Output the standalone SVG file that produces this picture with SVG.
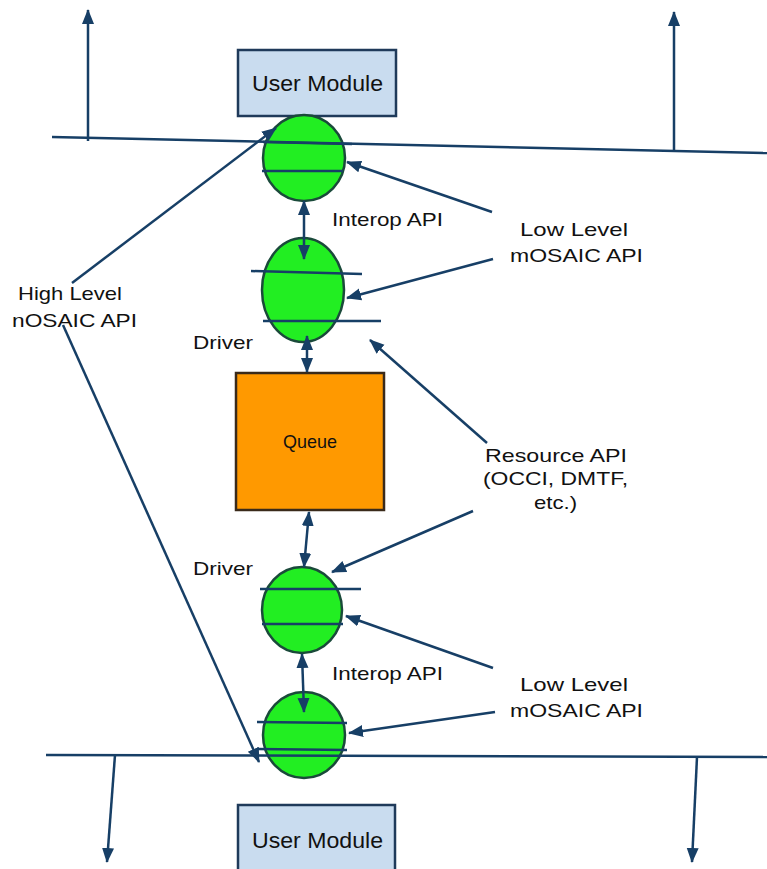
<svg xmlns="http://www.w3.org/2000/svg" width="767" height="869" viewBox="0 0 767 869">
<style>
.ln{stroke:#173f66;stroke-width:2.5;fill:none}
.ar{marker-end:url(#ah)}
.dar{marker-start:url(#ah);marker-end:url(#ah)}
.ell{fill:#22ee22;stroke:#1a4a3a;stroke-width:2.5}
.band{stroke:#173f66;stroke-width:2.5}
.box{fill:#c9dcef;stroke:#1f3a5a;stroke-width:2.5}
.q{fill:#ff9900;stroke:#3a2a1a;stroke-width:2.5}
text{font-family:"Liberation Sans",Arial,sans-serif;fill:#111;font-size:19px}
.big{font-size:22px}
</style>
<defs>
<marker id="ah" markerUnits="userSpaceOnUse" markerWidth="16" markerHeight="14" refX="14" refY="6" orient="auto-start-reverse" viewBox="0 0 16 12">
<path d="M0,0 L15,6 L0,12 z" fill="#173f66"/>
</marker>
</defs>

<g id="userModuleTop">
<rect class="box" x="238" y="50" width="158" height="66"/>
<text class="big" x="252" y="91" textLength="131" lengthAdjust="spacingAndGlyphs">User Module</text>
</g>
<g id="userModuleBottom">
<rect class="box" x="238" y="805" width="157" height="80"/>
<text class="big" x="252" y="848" textLength="131" lengthAdjust="spacingAndGlyphs">User Module</text>
</g>
<g id="queue">
<rect class="q" x="236" y="373" width="148" height="137"/>
<text x="283" y="448" textLength="54" lengthAdjust="spacingAndGlyphs">Queue</text>
</g>

<g id="interop1">
<ellipse class="ell" cx="304" cy="158" rx="41" ry="43"/>
<line class="band" x1="263" y1="142" x2="352" y2="144"/>
<line class="band" x1="262" y1="171" x2="343" y2="171"/>
</g>
<g id="driver1">
<ellipse class="ell" cx="303" cy="290" rx="41" ry="52"/>
<line class="band" x1="251" y1="271" x2="362" y2="274"/>
<line class="band" x1="263" y1="321" x2="381" y2="321"/>
</g>
<g id="driver2">
<ellipse class="ell" cx="302" cy="610" rx="40" ry="43"/>
<line class="band" x1="260" y1="589" x2="361" y2="589"/>
<line class="band" x1="262" y1="624" x2="343" y2="624"/>
</g>
<g id="interop2">
<ellipse class="ell" cx="304" cy="735" rx="41" ry="43"/>
<line class="band" x1="257" y1="722" x2="347" y2="723"/>
<line class="band" x1="257" y1="749" x2="347" y2="750"/>
</g>

<g id="connectors">
<line class="ln" x1="52" y1="137" x2="767" y2="153"/>
<line class="ln" x1="46" y1="755" x2="767" y2="757"/>
<line class="ln ar" x1="88" y1="141" x2="88" y2="10"/>
<line class="ln ar" x1="674" y1="152" x2="674" y2="12"/>
<line class="ln ar" x1="115" y1="755" x2="107" y2="862"/>
<line class="ln ar" x1="697" y1="757" x2="692" y2="862"/>
<line class="ln dar" x1="304" y1="201" x2="304" y2="259"/>
<line class="ln dar" x1="307" y1="336" x2="307" y2="372"/>
<line class="ln dar" x1="309" y1="512" x2="304" y2="567"/>
<line class="ln dar" x1="302" y1="654" x2="304" y2="712"/>
<line class="ln ar" x1="72" y1="283" x2="276" y2="128"/>
<line class="ln ar" x1="63" y1="325" x2="259" y2="762"/>
<line class="ln ar" x1="492" y1="212" x2="347" y2="162"/>
<line class="ln ar" x1="493" y1="259" x2="347" y2="298"/>
<line class="ln ar" x1="487" y1="443" x2="370" y2="340"/>
<line class="ln ar" x1="473" y1="511" x2="332" y2="572"/>
<line class="ln ar" x1="493" y1="668" x2="346" y2="616"/>
<line class="ln ar" x1="495" y1="712" x2="349" y2="733"/>
</g>

<g id="labels">
<text x="332" y="226" textLength="111" lengthAdjust="spacingAndGlyphs">Interop API</text>
<text x="193" y="349" textLength="60" lengthAdjust="spacingAndGlyphs">Driver</text>
<text x="193" y="575" textLength="60" lengthAdjust="spacingAndGlyphs">Driver</text>
<text x="332" y="680" textLength="111" lengthAdjust="spacingAndGlyphs">Interop API</text>
<text x="18" y="300" textLength="104" lengthAdjust="spacingAndGlyphs">High Level</text>
<text x="12" y="327" textLength="125" lengthAdjust="spacingAndGlyphs">nOSAIC API</text>
<text x="520" y="236" textLength="108" lengthAdjust="spacingAndGlyphs">Low Level</text>
<text x="510" y="262" textLength="133" lengthAdjust="spacingAndGlyphs">mOSAIC API</text>
<text x="520" y="691" textLength="108" lengthAdjust="spacingAndGlyphs">Low Level</text>
<text x="510" y="717" textLength="133" lengthAdjust="spacingAndGlyphs">mOSAIC API</text>
<text x="485" y="462" textLength="142" lengthAdjust="spacingAndGlyphs">Resource API</text>
<text x="483" y="485" textLength="145" lengthAdjust="spacingAndGlyphs">(OCCI, DMTF,</text>
<text x="534" y="509" textLength="43" lengthAdjust="spacingAndGlyphs">etc.)</text>
</g>
</svg>
